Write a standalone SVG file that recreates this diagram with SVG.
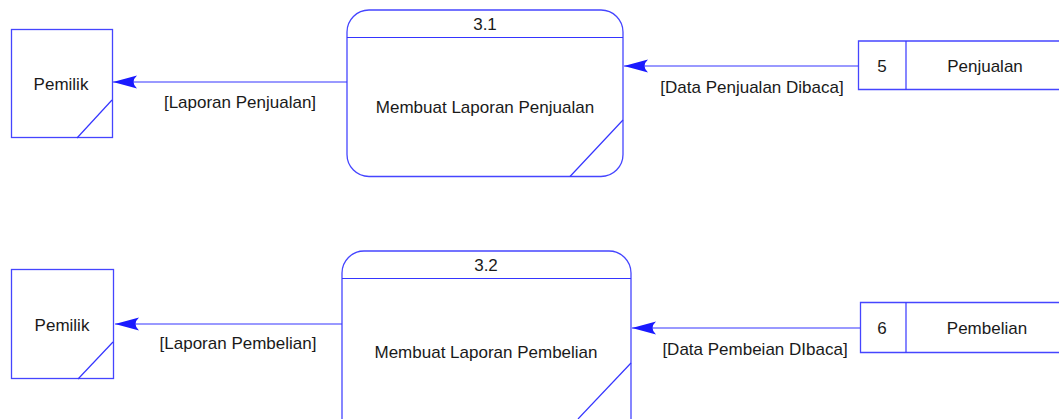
<svg xmlns="http://www.w3.org/2000/svg" width="1059" height="419" viewBox="0 0 1059 419">
<style>
.ln{stroke:#3535ff;stroke-width:1.2;fill:none}
.box{stroke:#4545ff;stroke-width:1.3;fill:#fff}
.t{font-family:"Liberation Sans",Arial,sans-serif;font-size:17px;fill:#1a1a1a;text-anchor:middle}
</style>
<defs>
<marker id="ah" markerUnits="userSpaceOnUse" markerWidth="30" markerHeight="16" refX="24" refY="8" orient="auto" viewBox="0 0 30 16">
<path d="M24,8 L0,1.5 Q7,8 0,14.5 Z" fill="#1a1aff"/>
</marker>
</defs>
<g id="pemilik1">
<rect class="box" x="11.5" y="29.5" width="101" height="108"/>
<line class="ln" x1="77" y1="138" x2="112" y2="100"/>
<text class="t" x="61" y="90">Pemilik</text>
</g>
<g id="pemilik2">
<rect class="box" x="11.5" y="269.5" width="102" height="109"/>
<line class="ln" x1="78" y1="379" x2="113" y2="342"/>
<text class="t" x="62" y="331">Pemilik</text>
</g>
<g id="proc31">
<rect class="box" x="347" y="10" width="276" height="166.5" rx="22" ry="22"/>
<line class="ln" x1="347" y1="37.5" x2="623" y2="37.5"/>
<line class="ln" x1="570" y1="176.5" x2="623" y2="120"/>
<text class="t" x="485" y="30">3.1</text>
<text class="t" x="485" y="113">Membuat Laporan Penjualan</text>
</g>
<g id="proc32">
<rect class="box" x="342" y="251" width="289" height="200" rx="22" ry="22"/>
<line class="ln" x1="342" y1="278.5" x2="631" y2="278.5"/>
<line class="ln" x1="578" y1="419" x2="631" y2="363"/>
<text class="t" x="486" y="271">3.2</text>
<text class="t" x="486" y="358">Membuat Laporan Pembelian</text>
</g>
<g id="store5">
<path class="box" d="M1062,41 L858.5,41 L858.5,89.5 L1062,89.5"/>
<line class="ln" x1="906" y1="41" x2="906" y2="89.5"/>
<text class="t" x="882" y="72">5</text>
<text class="t" x="985" y="72">Penjualan</text>
</g>
<g id="store6">
<path class="box" d="M1062,302.5 L860.5,302.5 L860.5,352.5 L1062,352.5"/>
<line class="ln" x1="906" y1="302.5" x2="906" y2="352.5"/>
<text class="t" x="882" y="334">6</text>
<text class="t" x="987" y="334">Pembelian</text>
</g>
<g id="connectors">
<line class="ln" x1="347" y1="82" x2="113" y2="82" marker-end="url(#ah)"/>
<text class="t" x="240" y="108">[Laporan Penjualan]</text>
<line class="ln" x1="858" y1="66" x2="624" y2="66" marker-end="url(#ah)"/>
<text class="t" x="752" y="93">[Data Penjualan Dibaca]</text>
<line class="ln" x1="342" y1="324" x2="115" y2="324" marker-end="url(#ah)"/>
<text class="t" x="238" y="349">[Laporan Pembelian]</text>
<line class="ln" x1="860" y1="328" x2="632" y2="328" marker-end="url(#ah)"/>
<text class="t" x="755" y="355">[Data Pembeian DIbaca]</text>
</g>
</svg>
